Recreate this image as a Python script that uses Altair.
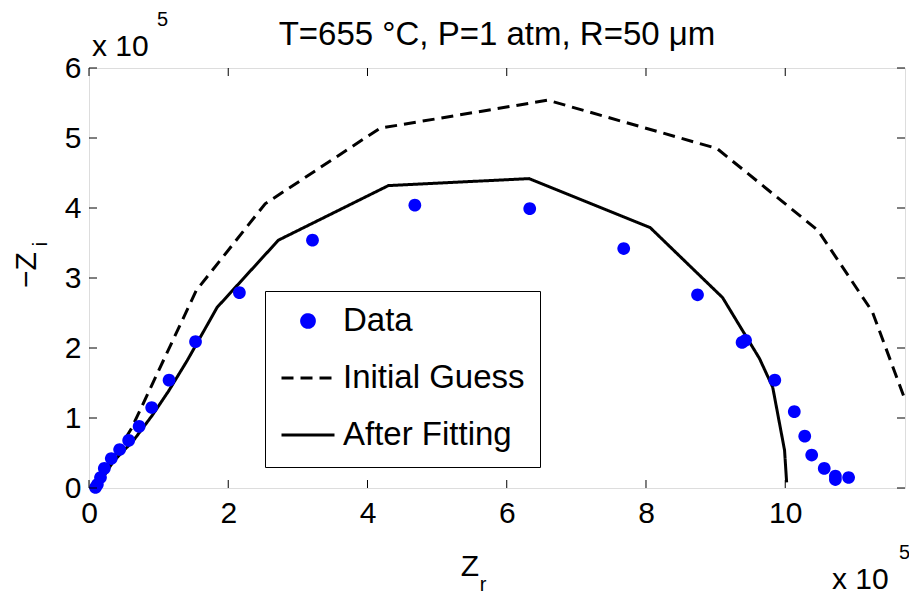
import altair as alt
import pandas as pd

FONT = "Liberation Sans"

# ---- data (units of 10^5 ohm) ----
series_names = ["Data", "Initial Guess", "After Fitting"]

data_zr = [0.093, 0.12, 0.165, 0.22, 0.32, 0.44, 0.57, 0.72, 0.90, 1.15, 1.53, 2.16,
           3.21, 4.68, 6.33, 7.68, 8.74, 9.38, 9.43, 9.85, 10.13, 10.28, 10.38,
           10.56, 10.72, 10.72, 10.91]
data_zi = [0.007, 0.05, 0.15, 0.28, 0.42, 0.55, 0.68, 0.88, 1.15, 1.54, 2.09, 2.79,
           3.54, 4.04, 3.99, 3.42, 2.76, 2.08, 2.11, 1.54, 1.09, 0.74, 0.47,
           0.28, 0.17, 0.12, 0.15]

guess_zr = [0.09, 0.31, 0.61, 1.54, 2.53, 4.18, 6.59, 9.02, 10.47, 11.25, 11.71]
guess_zi = [0.01, 0.36, 0.85, 2.82, 4.06, 5.14, 5.54, 4.85, 3.68, 2.52, 1.29]

fit_zr = [0.11, 0.35, 0.64, 0.91, 1.14, 1.41, 1.84, 2.72, 4.30, 6.32, 8.06, 9.10,
          9.63, 9.82, 9.99, 10.02]
fit_zi = [0.01, 0.38, 0.68, 1.04, 1.38, 1.82, 2.58, 3.54, 4.32, 4.42, 3.72, 2.72,
          1.85, 1.44, 0.54, 0.08]

x_ticks = [0, 2, 4, 6, 8, 10]
y_ticks = [0, 1, 2, 3, 4, 5, 6]
x_max = 11.72
y_max = 6

title_text = "T=655 °C, P=1 atm, R=50 μm"

# ---- tables ----
pts = pd.DataFrame({"zr": data_zr, "zi": data_zi, "series": series_names[0]})
lines = pd.concat([
    pd.DataFrame({"zr": guess_zr, "zi": guess_zi, "series": series_names[1],
                  "k": range(len(guess_zr))}),
    pd.DataFrame({"zr": fit_zr, "zi": fit_zi, "series": series_names[2],
                  "k": range(len(fit_zr))}),
])
xt = pd.DataFrame({"zr": x_ticks})
yt = pd.DataFrame({"zi": y_ticks})

W, H = 816, 420
TICK = 8
SYM = 2809  # legend / point symbol size (53 px wide stroke)
r = 0.24
circle_path = f"M-{r},0A{r},{r},0,1,0,{r},0A{r},{r},0,1,0,-{r},0Z"

xs = alt.Scale(domain=[0, x_max], nice=False, zero=False)
ys = alt.Scale(domain=[0, y_max], nice=False, zero=False)

leg = alt.Legend(title=None, orient="none", legendX=176, legendY=223,
                 labelFontSize=33, labelFont=FONT, labelColor="black", labelLimit=400,
                 symbolSize=SYM, symbolStrokeWidth=3, clipHeight=30,
                 rowPadding=24, padding=15, labelOffset=7,
                 strokeColor="black", fillColor="white")

color = alt.Color("series:N", scale=alt.Scale(domain=series_names,
                  range=["#0000ff", "#000000", "#000000"]), legend=leg)
shape = alt.Shape("series:N", scale=alt.Scale(domain=series_names,
                  range=[circle_path, "stroke", "stroke"]), legend=leg)
dash = alt.StrokeDash("series:N", scale=alt.Scale(domain=series_names,
                      range=[[1, 0], [12, 7], [1, 0]]), legend=leg)

x_axis = alt.Axis(values=x_ticks, labelFontSize=30, labelFont=FONT, labelColor="black",
                  ticks=False, domain=False, grid=False, title=None, labelPadding=10,
                  labelFlush=False)
y_axis = alt.Axis(values=y_ticks, labelFontSize=30, labelFont=FONT, labelColor="black",
                  ticks=False, domain=False, grid=False, title=None, labelPadding=8,
                  labelFlush=False)

X = alt.X("zr:Q", scale=xs, axis=x_axis)
Y = alt.Y("zi:Q", scale=ys, axis=y_axis)

line_layer = alt.Chart(lines).mark_line(strokeWidth=3).encode(
    x=X, y=Y, color=color, strokeDash=dash, order="k:Q",
)
point_layer = alt.Chart(pts).mark_point(filled=True, size=SYM, opacity=1).encode(
    x=X, y=Y, color=color, shape=shape,
)

# inward ticks (MATLAB box style)
tb = alt.Chart(xt).mark_rule(color="black", strokeWidth=1).encode(
    x=X, y=alt.value(H), y2=alt.value(H - TICK))
tt = alt.Chart(xt).mark_rule(color="black", strokeWidth=1).encode(
    x=X, y=alt.value(0), y2=alt.value(TICK))
tl = alt.Chart(yt).mark_rule(color="black", strokeWidth=1).encode(
    y=Y, x=alt.value(0), x2=alt.value(TICK))
tr = alt.Chart(yt).mark_rule(color="black", strokeWidth=1).encode(
    y=Y, x=alt.value(W), x2=alt.value(W - TICK))


def txt(s, x, y, size=30, angle=0, align="left"):
    return alt.Chart(pd.DataFrame({"t": [s]})).mark_text(
        font=FONT, fontSize=size, color="black", align=align, baseline="middle",
        angle=angle).encode(text="t:N", x=alt.value(x), y=alt.value(y))


annots = [
    txt(title_text, W / 2, -33, size=33, align="center"),
    txt("x 10", 3, -21), txt("5", 68, -48, size=20),
    txt("x 10", 743, 512), txt("5", 810, 485, size=20),
    txt("Z", 381, 499, align="center"), txt("r", 394, 517, size=20, align="center"),
    txt("\u2212Z", -62, 202, angle=270, align="center"),
    txt("i", -48, 176, size=20, angle=270, align="center"),
]

chart = alt.layer(line_layer, point_layer, tb, tt, tl, tr, *annots).properties(
    width=W, height=H,
    autosize=alt.AutoSizeParams(type="none"),
    padding={"left": 89, "top": 68, "right": 4, "bottom": 107},
).configure_view(stroke="black", strokeWidth=2).configure(background="white")

chart.save("out.html", embed_options={"renderer": "svg", "actions": False})
